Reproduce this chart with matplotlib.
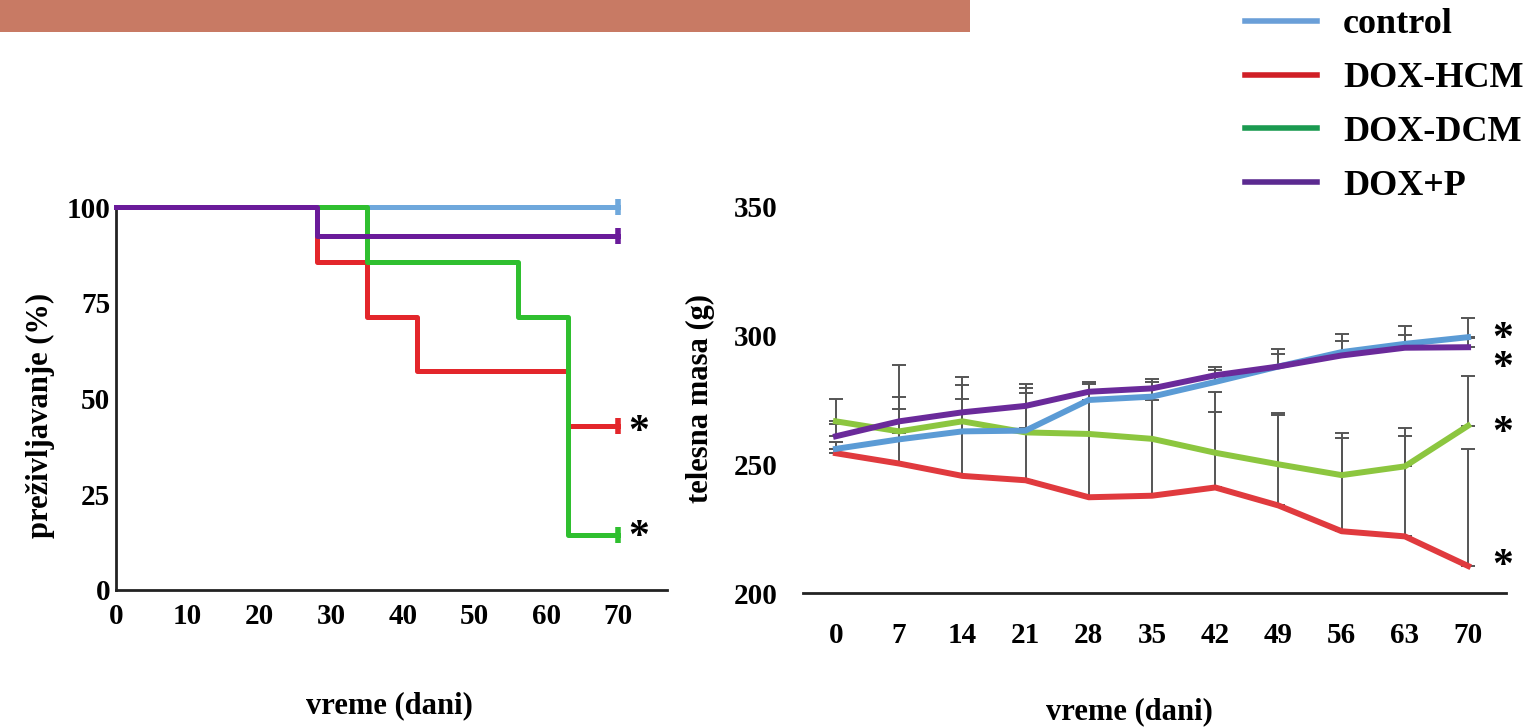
import matplotlib
matplotlib.use("Agg")
import matplotlib.pyplot as plt
from matplotlib.lines import Line2D
from matplotlib.patches import Rectangle

plt.rcParams["font.family"] = ["Liberation Serif", "DejaVu Serif"]
plt.rcParams["font.weight"] = "bold"
plt.rcParams["axes.labelweight"] = "bold"

W, H = 1528, 727

# survival (left panel)
surv_ticks_x = [0, 10, 20, 30, 40, 50, 60, 70]
surv_ticks_y = [0, 25, 50, 75, 100]
control_t = [0, 70]
control_s = [100, 100]
hcm_t = [0, 28, 35, 42, 63, 70]
hcm_s = [100, 85.7, 71.4, 57.1, 42.9, 42.9]
dcm_t = [0, 35, 56, 63, 70]
dcm_s = [100, 85.7, 71.4, 14.3, 14.3]
doxp_t = [0, 28, 70]
doxp_s = [100, 92.3, 92.3]

# body mass (right panel)
days = [0, 7, 14, 21, 28, 35, 42, 49, 56, 63, 70]
mass_ticks_y = [200, 250, 300, 350]
control_m = [256, 259.7, 262.8, 263.1, 275, 276.3, 282, 288, 293.6, 296.8, 299.4]
control_sd = [2.5, 11.6, 12.4, 14.5, 7, 5.7, 4.5, 6.9, 7, 7.1, 7.6]
doxp_m = [260.9, 266.7, 270.2, 272.7, 278.2, 279.5, 284.6, 288, 292.3, 295.3, 295.5]
doxp_sd = [4.6, 9.3, 13.9, 8.7, 3.2, 3.5, 3.2, 5, 5.7, 5.1, 3.5]
dcm_m = [266.7, 262.8, 266.7, 262.4, 261.8, 259.9, 254.5, 250, 245.8, 249.2, 265]
dcm_sd = [8.5, 25.6, 14.3, 17.1, 13.2, 15.1, 23.7, 19.9, 16.4, 15.1, 19.5]
hcm_m = [254.3, 250.3, 245.5, 243.8, 237.2, 237.8, 241, 234, 224, 222, 210.5]
hcm_sd = [1.7, 11.7, 16.5, 20.2, 24.8, 22.2, 29.3, 35, 36.3, 38.9, 45.3]

groups = ["control", "DOX-HCM", "DOX-DCM", "DOX+P"]
legend_colors = ["#6a9fd8", "#d01f26", "#1a9a50", "#5b2a90"]


def px_axes(fig, x0, y0, x1, y1):
    return fig.add_axes([x0 / W, 1 - y1 / H, (x1 - x0) / W, (y1 - y0) / H])


fig = plt.figure(figsize=(W / 100, H / 100), dpi=100)

# header bar
fig.patches.append(Rectangle((0, 1 - 32 / H), 970 / W, 32 / H, transform=fig.transFigure,
                             facecolor="#c87a64", edgecolor="none"))

# ---- left: survival ----
ax1 = px_axes(fig, 116, 207, 667, 590)
lw = 3.6
for t, s, c, z in [(control_t, control_s, "#6fa8dc", 2), (hcm_t, hcm_s, "#e3262b", 3),
                   (dcm_t, dcm_s, "#2fbf2f", 4), (doxp_t, doxp_s, "#6a1b9a", 5)]:
    ax1.step(t, s, where="post", color=c, lw=lw, zorder=z, clip_on=False)
    ax1.plot([t[-1]], [s[-1]], marker="|", ms=12, mew=4, color=c, zorder=z, clip_on=False)
ax1.set_xlim(0, 76.8)
ax1.set_ylim(0, 100)
ax1.set_xticks(surv_ticks_x)
ax1.set_yticks(surv_ticks_y)
ax1.tick_params(length=0, labelsize=21)
ax1.tick_params(axis="x", pad=9)
ax1.tick_params(axis="y", pad=4)
for s in ["top", "right"]:
    ax1.spines[s].set_visible(False)
for s in ["left", "bottom"]:
    ax1.spines[s].set_linewidth(2)
    ax1.spines[s].set_color("#222222")
ax1.set_ylabel("preživljavanje (%)", fontsize=22)
ax1.yaxis.set_label_coords(-0.111, 0.457)
ax1.set_xlabel("vreme (dani)", fontsize=22)
ax1.xaxis.set_label_coords(0.497, -0.265)
for yv in [41.0, 13.6]:
    ax1.text(72.9, yv, "*", fontsize=30, ha="center", va="center", clip_on=False)

# ---- right: body mass ----
ax2 = px_axes(fig, 803, 200, 1506, 593)
err_kw = dict(fmt="none", ecolor="#555555", elinewidth=1.4, capsize=5, capthick=1.4, zorder=1)
zeros = [0] * len(days)
for m, sd in [(hcm_m, hcm_sd), (dcm_m, dcm_sd), (control_m, control_sd), (doxp_m, doxp_sd)]:
    ax2.errorbar(days, m, yerr=[zeros, sd], **err_kw)
lw2 = 4.3
ax2.plot(days, hcm_m, color="#e03a3e", lw=lw2, zorder=2)
ax2.plot(days, dcm_m, color="#8cc63f", lw=lw2, zorder=3)
ax2.plot(days, control_m, color="#5b9bd5", lw=lw2, zorder=4)
ax2.plot(days, doxp_m, color="#6a2a9a", lw=lw2, zorder=5)
ax2.set_xlim(-3.65, 74.2)
ax2.set_ylim(200, 352.7)
ax2.set_xticks(days)
ax2.set_yticks(mass_ticks_y)
ax2.tick_params(length=0, labelsize=21)
ax2.tick_params(axis="x", pad=21)
ax2.tick_params(axis="y", pad=18)
for s in ["top", "right", "left"]:
    ax2.spines[s].set_visible(False)
ax2.spines["bottom"].set_linewidth(2)
ax2.spines["bottom"].set_color("#222222")
ax2.set_ylabel("telesna masa (g)", fontsize=22)
ax2.yaxis.set_label_coords(-0.125, 0.496)
ax2.set_xlabel("vreme (dani)", fontsize=22)
ax2.xaxis.set_label_coords(0.465, -0.265)
# the two top asterisks sit close together, so they share one text
ax2.text(73.8, 292.8, "*\n*", fontsize=30, ha="center", va="center", linespacing=0.68,
         clip_on=False)
for yv in [261.8, 210.0]:
    ax2.text(73.8, yv, "*", fontsize=30, ha="center", va="center", clip_on=False)

# legend
handles = [Line2D([], [], color=c, lw=4) for c in legend_colors]
fig.legend(handles, groups, loc="upper left", bbox_to_anchor=(1245 / W, 1 - 8 / H),
           frameon=False, fontsize=26, handlelength=2.0, handletextpad=0.72,
           labelspacing=0.57, borderpad=0, borderaxespad=0)

fig.savefig("out.png", dpi=100)
